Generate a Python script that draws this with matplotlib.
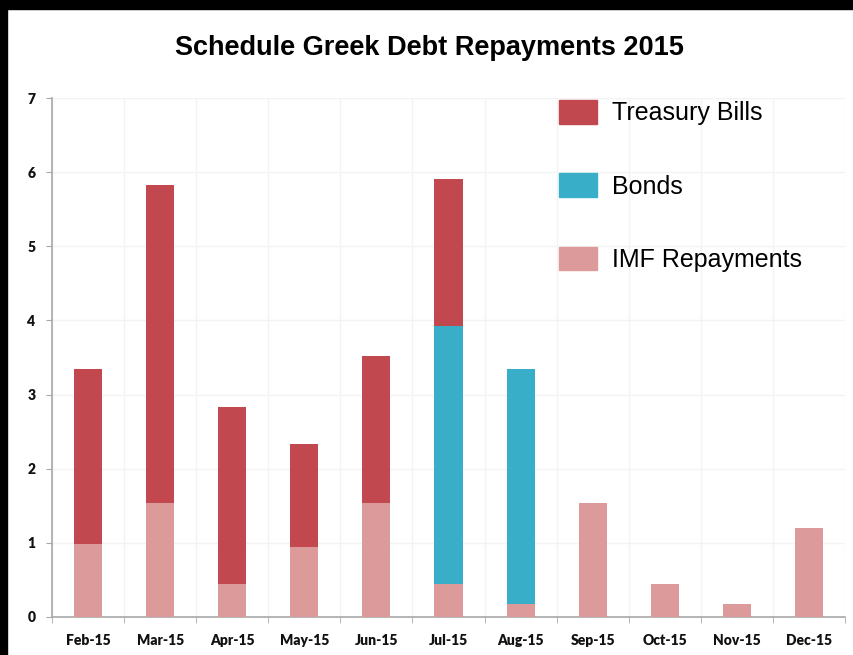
import numpy as np
import matplotlib.pyplot as plt
from matplotlib.patches import Rectangle, Patch

# Data (billions EUR)
months = ['Feb-15', 'Mar-15', 'Apr-15', 'May-15', 'Jun-15', 'Jul-15',
          'Aug-15', 'Sep-15', 'Oct-15', 'Nov-15', 'Dec-15']
imf = [0.98, 1.54, 0.45, 0.94, 1.54, 0.45, 0.18, 1.54, 0.45, 0.18, 1.20]
bonds = [0, 0, 0, 0, 0, 3.48, 3.17, 0, 0, 0, 0]
bills = [2.37, 4.28, 2.38, 1.39, 1.98, 1.98, 0, 0, 0, 0, 0]

c_bills = '#c1484e'
c_bonds = '#38aec8'
c_imf = '#dc9a9a'

fig = plt.figure(figsize=(8.54, 6.55), dpi=100)
fig.patch.set_facecolor('white')
# black frame strips of the screenshot
fig.add_artist(Rectangle((0, 1 - 9 / 655), 1, 9 / 655, transform=fig.transFigure,
                         color='black', zorder=10))
fig.add_artist(Rectangle((0, 0), 7 / 854, 1, transform=fig.transFigure,
                         color='black', zorder=10))

ax = fig.add_axes([52 / 854, 38 / 655, 793 / 854, 519 / 655])

x = np.arange(len(months))
w = 0.39
ax.bar(x, imf, w, color=c_imf, linewidth=0, zorder=3)
ax.bar(x, bonds, w, bottom=imf, color=c_bonds, linewidth=0, zorder=3)
bot2 = np.array(imf) + np.array(bonds)
ax.bar(x, bills, w, bottom=bot2, color=c_bills, linewidth=0, zorder=3)

ax.set_xlim(-0.5, len(months) - 0.5)
ax.set_ylim(0, 7)
ax.set_yticks(range(0, 8))
ax.set_xticks(x)
ax.set_xticklabels(months)
ax.set_xticks(np.arange(-0.5, len(months)), minor=True)

ax.grid(True, which='major', axis='y', color='#f3f3f3', linewidth=1, zorder=0)
ax.grid(True, which='minor', axis='x', color='#f3f3f3', linewidth=1, zorder=0)

for s in ['top', 'right']:
    ax.spines[s].set_visible(False)
for s in ['left', 'bottom']:
    ax.spines[s].set_color('#a8a8a8')
    ax.spines[s].set_linewidth(1.2)

ax.tick_params(axis='x', which='major', length=0, pad=12)
ax.tick_params(axis='x', which='minor', length=4, color='#a8a8a8')
ax.tick_params(axis='y', length=4, color='#a8a8a8', pad=8)
for lab in ax.get_xticklabels() + ax.get_yticklabels():
    lab.set_family('Lato')
    lab.set_fontweight('heavy')
    lab.set_fontsize(10)
    lab.set_color('#111111')

fig.text(429 / 854, 1 - 48 / 655, 'Schedule Greek Debt Repayments 2015',
         ha='center', va='center', fontsize=19.5, fontweight='bold',
         family='Liberation Sans')

handles = [Patch(color=c_bills, label='Treasury Bills'),
           Patch(color=c_bonds, label='Bonds'),
           Patch(color=c_imf, label='IMF Repayments')]
fs = 18
px = fs * 100 / 72
leg = fig.legend(handles=handles, loc='upper left',
                 bbox_to_anchor=(559 / 854, 1 - 100 / 655),
                 frameon=False, borderpad=0, borderaxespad=0,
                 prop={'family': 'Liberation Sans', 'size': fs},
                 handlelength=38 / px, handleheight=27 / px,
                 handletextpad=15 / px, labelspacing=(75 - 27) / px)

fig.savefig('out.png', dpi=100, facecolor=fig.get_facecolor())
